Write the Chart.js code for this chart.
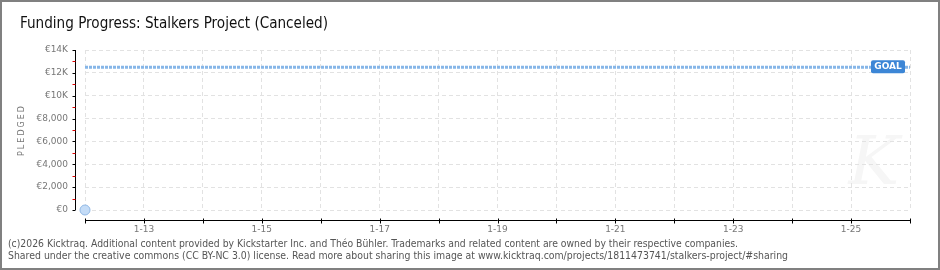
<!DOCTYPE html>
<html>
<head>
<meta charset="utf-8">
<script src="https://cdn.jsdelivr.net/npm/chart.js@4.4.1/dist/chart.umd.min.js"></script>
<style>
    body { margin: 0; background: #fff; }
    canvas { display: block; }
</style>
</head>
<body>
<canvas id="fundingChart" width="940" height="270"></canvas>
<script>
// Chart data
const titleText = 'Funding Progress: Stalkers Project (Canceled)';
const pledgedDays = [12];
const pledgedValues = [0];
const goalValue = 12500;
const dayRange = [12, 26];
const xTickLabels = ['1-13', '1-15', '1-17', '1-19', '1-21', '1-23', '1-25'];
const yTickValues = [0, 2000, 4000, 6000, 8000, 10000, 12000, 14000];
const yTickLabels = ['€0', '€2,000', '€4,000', '€6,000', '€8,000', '€10K', '€12K', '€14K'];
const footerLines = [
    '(c)2026 Kicktraq. Additional content provided by Kickstarter Inc. and Théo Bühler. Trademarks and related content are owned by their respective companies.',
    'Shared under the creative commons (CC BY-NC 3.0) license. Read more about sharing this image at www.kicktraq.com/projects/1811473741/stalkers-project/#sharing'
];

const tickFont = { family: 'DejaVu Sans', size: 9 };

// fit a line of text to a given width (fonts differ from the original)
function fitText(ctx, text, x, y, width) {
    const w = ctx.measureText(text).width;
    ctx.save();
    ctx.translate(x, y);
    ctx.scale(width / w, 1);
    ctx.fillText(text, 0, 0);
    ctx.restore();
}

// frame, title, footer, axis lines, goal tag
const decorPlugin = {
    id: 'decor',
    beforeDraw(chart) {
        const ctx = chart.ctx;
        ctx.save();
        ctx.fillStyle = '#fff';
        ctx.fillRect(0, 0, chart.width, chart.height);
        // faint watermark
        ctx.fillStyle = '#f6f6f6';
        ctx.font = 'italic 68px "DejaVu Serif"';
        ctx.textAlign = 'center';
        ctx.textBaseline = 'middle';
        ctx.fillText('K', chart.chartArea.right - 36, chart.chartArea.bottom - 44);
        ctx.restore();
    },
    afterDraw(chart) {
        const ctx = chart.ctx;
        const area = chart.chartArea;
        const xs = chart.scales.x;
        const ys = chart.scales.y;
        ctx.save();

        // title
        ctx.fillStyle = '#111';
        ctx.font = '16px "DejaVu Sans Condensed"';
        ctx.textAlign = 'left';
        ctx.textBaseline = 'middle';
        fitText(ctx, titleText, 20, 24, 308);

        // y axis title
        ctx.save();
        ctx.translate(22, (area.top + area.bottom) / 2);
        ctx.rotate(-Math.PI / 2);
        ctx.fillStyle = '#777';
        ctx.font = '8px "DejaVu Sans"';
        ctx.letterSpacing = '2px';
        ctx.textAlign = 'center';
        ctx.fillText('PLEDGED', 0, 0);
        ctx.restore();

        // y axis line + ticks
        const yx = Math.round(area.left - 10) + 0.5;
        ctx.lineWidth = 1;
        ctx.strokeStyle = '#000';
        ctx.beginPath();
        ctx.moveTo(yx, ys.getPixelForValue(ys.max));
        ctx.lineTo(yx, ys.getPixelForValue(ys.min));
        ctx.stroke();
        yTickValues.forEach(function(v, i) {
            const py = Math.round(ys.getPixelForValue(v)) + 0.5;
            ctx.strokeStyle = '#000';
            ctx.beginPath();
            ctx.moveTo(yx - 3, py);
            ctx.lineTo(yx, py);
            ctx.stroke();
            if (i < yTickValues.length - 1) {
                const my = Math.round(ys.getPixelForValue((v + yTickValues[i + 1]) / 2)) + 0.5;
                ctx.strokeStyle = '#e00000';
                ctx.beginPath();
                ctx.moveTo(yx - 3, my);
                ctx.lineTo(yx, my);
                ctx.stroke();
            }
        });

        // x axis line + ticks
        const xy = Math.round(area.bottom + 10) + 0.5;
        ctx.strokeStyle = '#000';
        ctx.beginPath();
        ctx.moveTo(xs.getPixelForValue(xs.min), xy);
        ctx.lineTo(xs.getPixelForValue(xs.max), xy);
        ctx.stroke();
        for (let d = dayRange[0]; d <= dayRange[1]; d++) {
            const px = Math.round(xs.getPixelForValue(d)) + 0.5;
            ctx.beginPath();
            ctx.moveTo(px, xy - 2);
            ctx.lineTo(px, xy + 3);
            ctx.stroke();
        }

        // goal tag
        const gy = ys.getPixelForValue(goalValue);
        const gr = area.right - 5;
        const gw = 34, gh = 13;
        ctx.fillStyle = '#3c86d6';
        ctx.beginPath();
        ctx.roundRect(gr - gw, gy - 7, gw, gh, 2);
        ctx.fill();
        ctx.fillStyle = '#fff';
        ctx.font = 'bold 9px "DejaVu Sans"';
        ctx.textAlign = 'center';
        ctx.textBaseline = 'middle';
        ctx.fillText('GOAL', gr - gw / 2, gy);

        // footer
        ctx.fillStyle = '#555';
        ctx.font = '10px "DejaVu Sans Condensed"';
        ctx.textAlign = 'left';
        ctx.textBaseline = 'middle';
        fitText(ctx, footerLines[0], 8, 244, 730);
        fitText(ctx, footerLines[1], 8, 256, 780);

        // frame
        ctx.strokeStyle = '#808080';
        ctx.lineWidth = 2;
        ctx.strokeRect(1, 1, chart.width - 2, chart.height - 2);
        ctx.restore();
    }
};

new Chart(document.getElementById('fundingChart'), {
    type: 'line',
    data: {
        datasets: [{
            label: 'Goal',
            data: [{ x: dayRange[0], y: goalValue }, { x: dayRange[1], y: goalValue }],
            borderColor: '#86b6e8',
            borderWidth: 3,
            borderDash: [3, 1],
            pointRadius: 0,
            fill: false
        }, {
            label: 'Pledged',
            data: pledgedDays.map(function(d, i) { return { x: d, y: pledgedValues[i] }; }),
            borderColor: '#92b9e6',
            backgroundColor: '#c4dcf7',
            borderWidth: 1,
            pointRadius: 5,
            showLine: false,
            clip: false
        }]
    },
    options: {
        responsive: false,
        animation: false,
        layout: { padding: { top: 50, right: 30, left: 0, bottom: 0 } },
        plugins: {
            legend: { display: false },
            tooltip: { enabled: false },
            title: { display: false }
        },
        scales: {
            x: {
                type: 'linear',
                min: dayRange[0],
                max: dayRange[1],
                afterFit: function(scale) { scale.height = 60; },
                border: { display: false, dash: [4, 3] },
                grid: { color: '#e2e2e2', tickLength: 0, drawTicks: false },
                ticks: {
                    stepSize: 1,
                    autoSkip: false,
                    maxRotation: 0,
                    padding: 14,
                    color: '#777',
                    font: tickFont,
                    callback: function(value) {
                        const label = '1-' + value;
                        return xTickLabels.includes(label) ? label : '';
                    }
                }
            },
            y: {
                min: yTickValues[0],
                max: yTickValues[yTickValues.length - 1],
                afterFit: function(scale) { scale.width = 85; },
                border: { display: false, dash: [4, 3] },
                grid: { color: '#e2e2e2', tickLength: 0, drawTicks: false },
                ticks: {
                    stepSize: 2000,
                    padding: 17,
                    color: '#777',
                    font: tickFont,
                    callback: function(value) {
                        const i = yTickValues.indexOf(value);
                        return i >= 0 ? yTickLabels[i] : '';
                    }
                }
            }
        }
    },
    plugins: [decorPlugin]
});
</script>
</body>
</html>
